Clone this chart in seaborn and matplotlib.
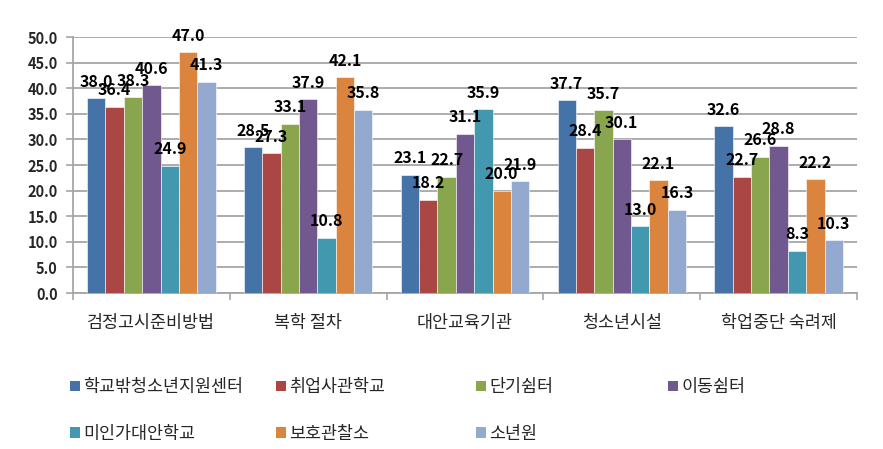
import matplotlib
matplotlib.use("Agg")
import matplotlib.pyplot as plt
import seaborn as sns
import pandas as pd
from matplotlib.patches import Patch

categories = ["검정고시준비방법", "복학 절차", "대안교육기관", "청소년시설", "학업중단 숙려제"]
series_names = ["학교밖청소년지원센터", "취업사관학교", "단기쉼터", "이동쉼터",
                "미인가대안학교", "보호관찰소", "소년원"]
center = [38.0, 28.5, 23.1, 37.7, 32.6]
school = [36.4, 27.3, 18.2, 28.4, 22.7]
short_shelter = [38.3, 33.1, 22.7, 35.7, 26.6]
mobile_shelter = [40.6, 37.9, 31.1, 30.1, 28.8]
alt_school = [24.9, 10.8, 35.9, 13.0, 8.3]
probation = [47.0, 42.1, 20.0, 22.1, 22.2]
juvenile = [41.3, 35.8, 21.9, 16.3, 10.3]
yticks = [0, 5, 10, 15, 20, 25, 30, 35, 40, 45, 50]

colors = ["#4572A7", "#AA4643", "#89A54E", "#71588F", "#4198AF", "#DB843D", "#93A9CF"]

all_series = [center, school, short_shelter, mobile_shelter, alt_school, probation, juvenile]
rows = []
for name, vals in zip(series_names, all_series):
    for c, v in zip(categories, vals):
        rows.append({"cat": c, "series": name, "val": v})
df = pd.DataFrame(rows)

sns.set_style("white")
plt.rcParams["font.family"] = ["Noto Sans CJK KR", "DejaVu Sans"]

fig = plt.figure(figsize=(8.83, 4.49), dpi=100)
ax = fig.add_axes([73/883, 1 - 293/449, 784/883, 256/449])

sns.barplot(data=df, x="cat", y="val", hue="series", order=categories,
            hue_order=series_names, palette=colors, saturation=1, width=0.82, gap=0,
            edgecolor="white", linewidth=0.4, legend=False, ax=ax, zorder=3)

for cont in ax.containers:
    ax.bar_label(cont, fmt="%.1f", padding=6, fontsize=11.5, fontweight="bold",
                 color="black", zorder=5)

ax.set_ylim(0, 50)
ax.set_xlim(-0.5, 4.5)
ax.set_yticks(yticks)
ax.set_yticklabels([f"{v:.1f}" for v in yticks], fontsize=10.5, fontweight="bold")
ax.yaxis.grid(True, color="#A6A6A6", linewidth=1.3, zorder=0)
ax.set_axisbelow(True)
ax.tick_params(axis="y", length=5, color="#A6A6A6", width=1.2, pad=6, left=True)
ax.set_xticks(range(len(categories)))
ax.set_xticklabels(categories, fontsize=12.5, fontweight="medium")
ax.set_xticks([-0.5, 0.5, 1.5, 2.5, 3.5, 4.5], minor=True)
ax.tick_params(axis="x", which="major", length=0, pad=15)
ax.tick_params(axis="x", which="minor", length=5, color="#A6A6A6", width=1.2, bottom=True)
ax.set_xlabel("")
ax.set_ylabel("")
for s in ["top", "right"]:
    ax.spines[s].set_visible(False)
for s in ["left", "bottom"]:
    ax.spines[s].set_color("#A6A6A6")
    ax.spines[s].set_linewidth(1.3)

handles = [Patch(facecolor=c, edgecolor="none") for c in colors]
cols = [[0, 4], [1, 5], [2, 6], [3]]
xs = [70, 276, 476, 668]
for col, x in zip(cols, xs):
    fig.legend([handles[i] for i in col], [series_names[i] for i in col],
               loc="upper left", bbox_to_anchor=(x/883, 1 - 378/449),
               frameon=False, prop={"size": 12.5, "weight": "medium"},
               handlelength=0.55, handleheight=0.55,
               handletextpad=0.2, labelspacing=1.65, borderpad=0, borderaxespad=0)

fig.savefig("out.png", dpi=100)
